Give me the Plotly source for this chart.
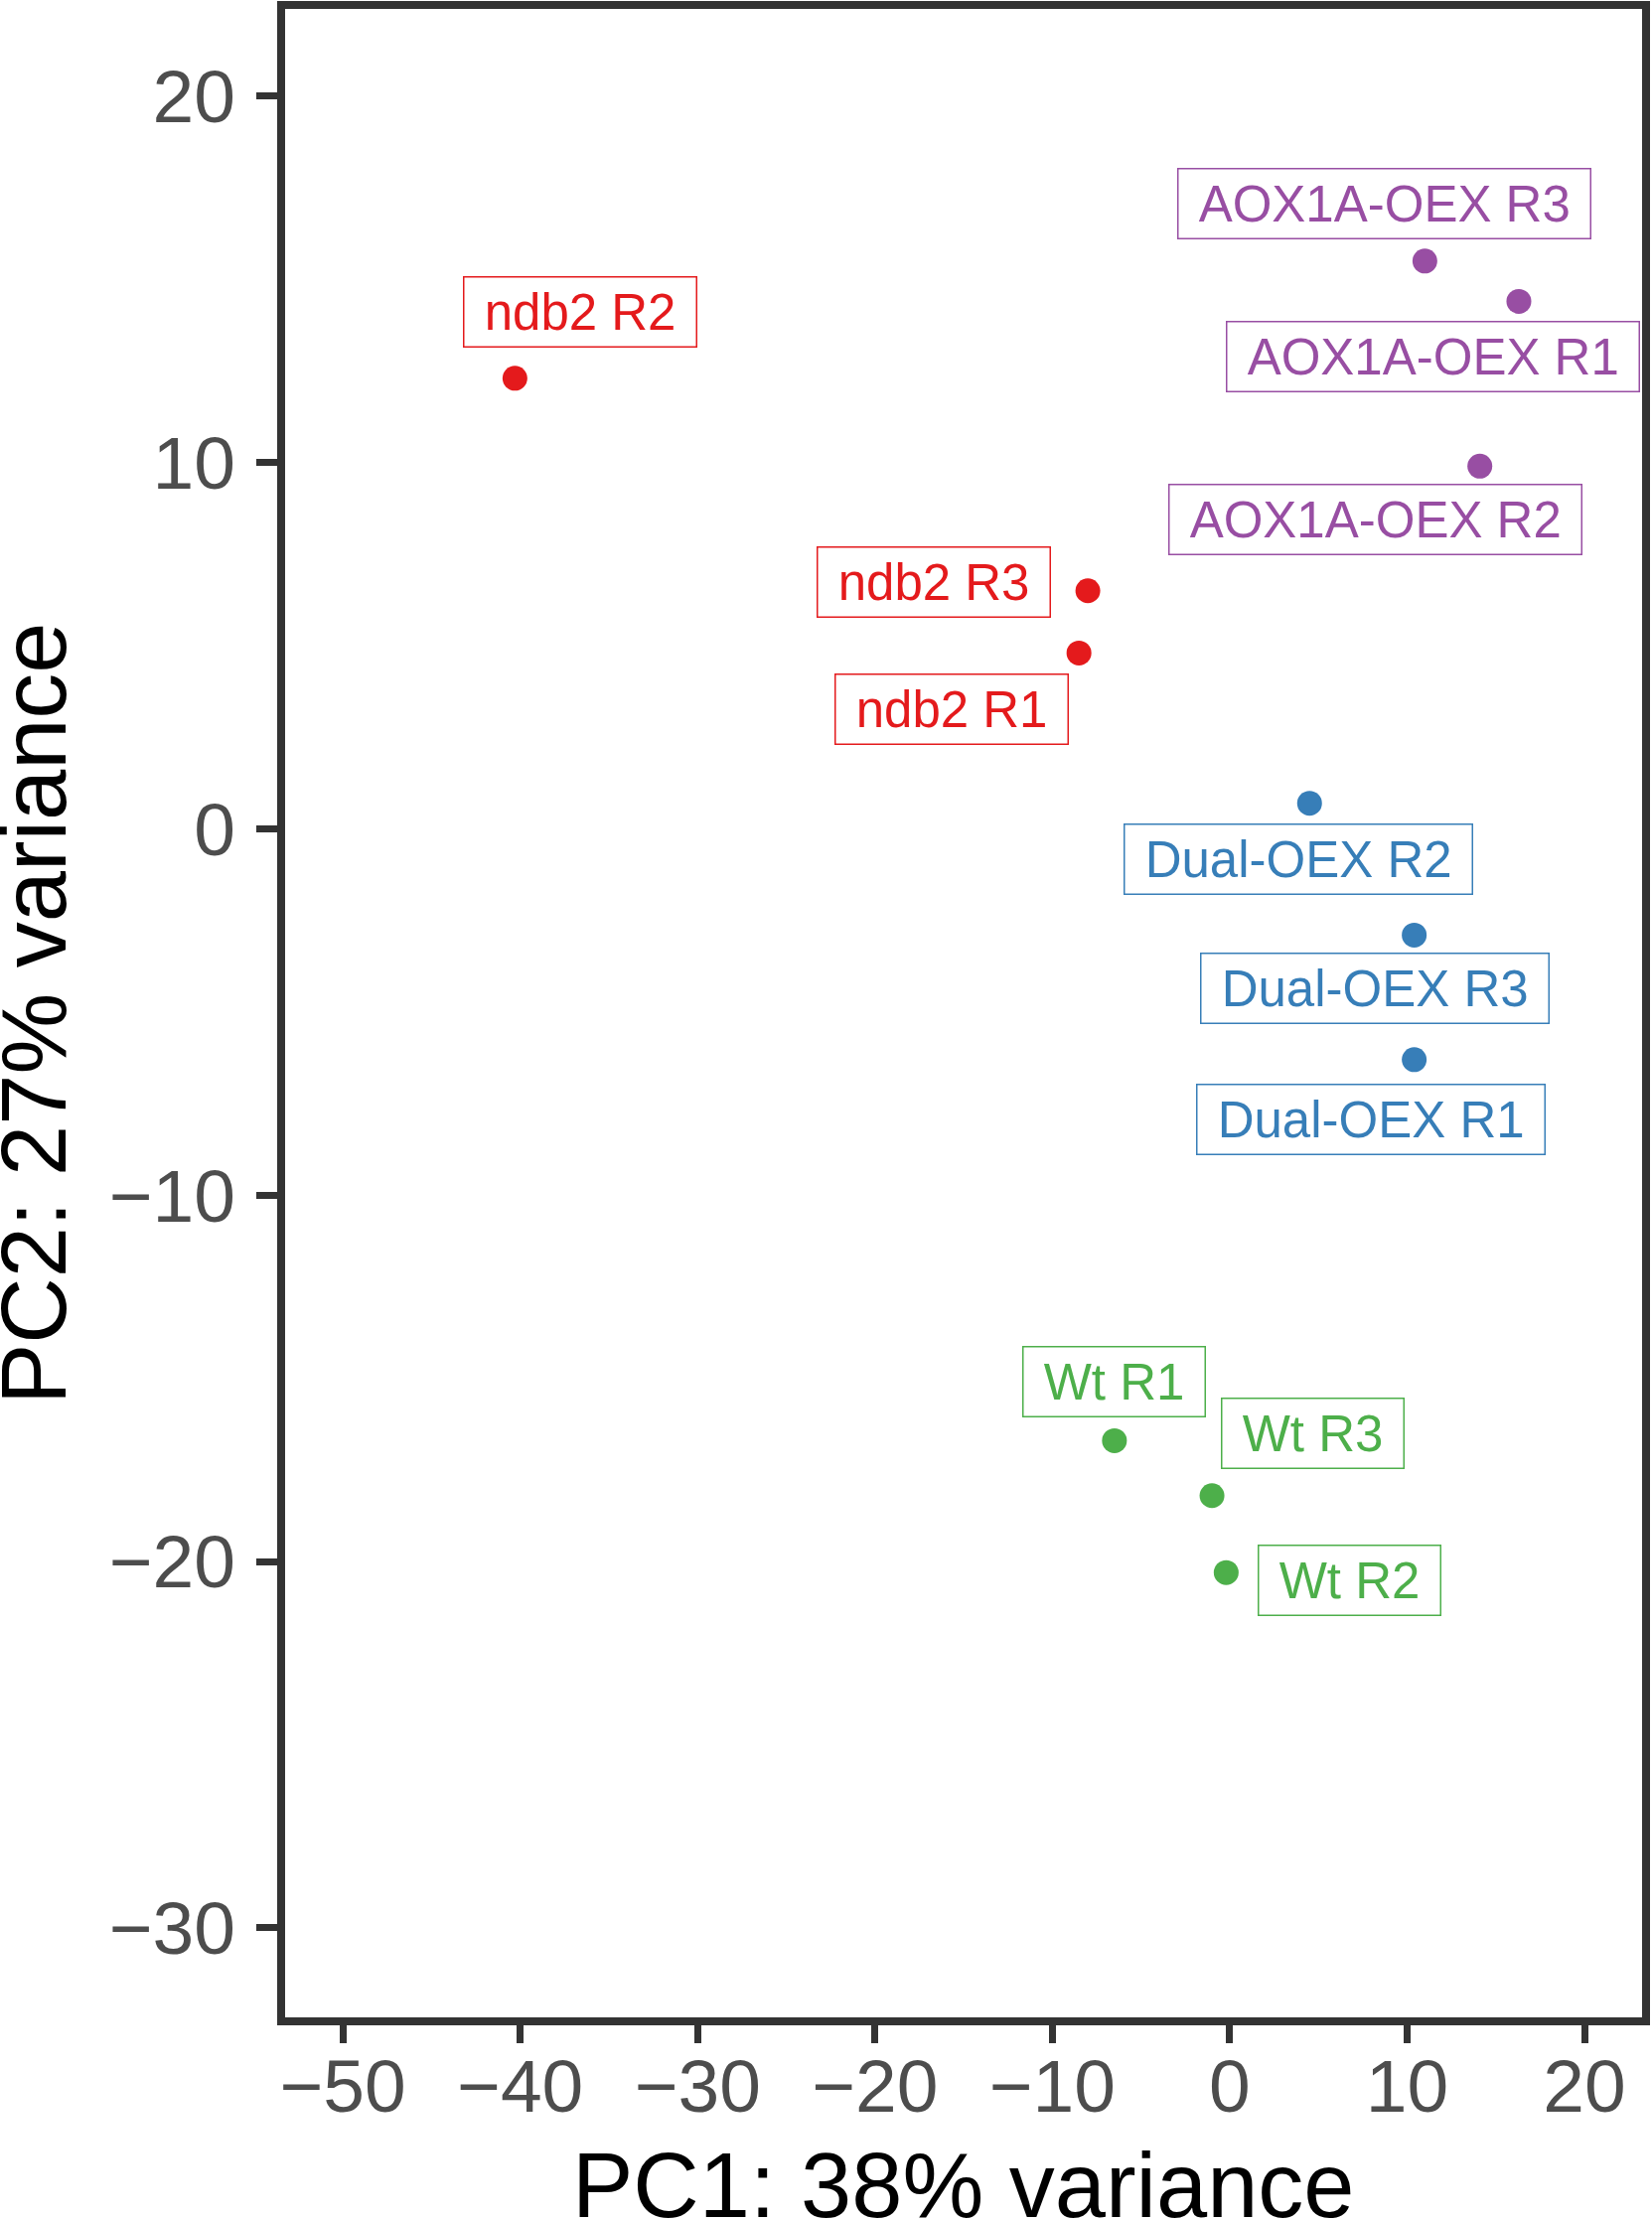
import plotly.graph_objects as go

# PCA of samples
samples = ["ndb2 R2", "ndb2 R3", "ndb2 R1",
           "AOX1A-OEX R3", "AOX1A-OEX R1", "AOX1A-OEX R2",
           "Dual-OEX R2", "Dual-OEX R3", "Dual-OEX R1",
           "Wt R1", "Wt R3", "Wt R2"]
groups = ["ndb2"] * 3 + ["AOX1A-OEX"] * 3 + ["Dual-OEX"] * 3 + ["Wt"] * 3
pc1 = [-40.3, -8.0, -8.5, 11.0, 16.3, 14.1, 4.5, 10.4, 10.4, -6.5, -1.0, -0.2]
pc2 = [12.3, 6.5, 4.8, 15.5, 14.4, 9.9, 0.7, -2.9, -6.3, -16.7, -18.2, -20.3]

x_ticks = [-50, -40, -30, -20, -10, 0, 10, 20]
y_ticks = [-30, -20, -10, 0, 10, 20]
x_title = "PC1: 38% variance"
y_title = "PC2: 27% variance"

group_colors = {"ndb2": "#E41A1C", "AOX1A-OEX": "#984EA3",
                "Dual-OEX": "#377EB8", "Wt": "#4DAF4A"}

# repelled label offsets in pixels (dx, dy), like ggrepel put them
label_offsets = [(66, -67), (-155, -9), (-128, 57),
                 (-41, -58), (-86, 56), (-105, 54),
                 (-11, 56), (-40, 54), (-44, 60),
                 (0, -59), (101, -63), (124, 8)]

FONT = "Liberation Sans, Arial, Helvetica, sans-serif"
NB = "\u00a0"
DARK = "#333333"

fig = go.Figure()
for g, col in group_colors.items():
    idx = [i for i, gg in enumerate(groups) if gg == g]
    fig.add_trace(go.Scatter(
        x=[pc1[i] for i in idx], y=[pc2[i] for i in idx],
        mode="markers", name=g,
        marker=dict(color=col, size=25, line=dict(width=0)),
    ))

for i, s in enumerate(samples):
    col = group_colors[groups[i]]
    dx, dy = label_offsets[i]
    fig.add_annotation(
        x=pc1[i], y=pc2[i], text=NB + s + NB,
        showarrow=True, arrowcolor="rgba(0,0,0,0)", arrowwidth=0.1,
        ax=dx, ay=dy, axref="pixel", ayref="pixel",
        font=dict(family=FONT, size=51, color=col),
        bgcolor="white", bordercolor=col, borderwidth=1.5, borderpad=6,
        xanchor="center", yanchor="middle",
    )

# axis titles as annotations so they sit where ggplot put them
fig.add_annotation(
    xref="paper", yref="paper", x=0.5, y=0, xanchor="center", yanchor="top",
    yshift=-112, text=x_title, showarrow=False,
    font=dict(family=FONT, size=92, color="black"),
)
fig.add_annotation(
    xref="paper", yref="paper", x=0, y=0.5, xanchor="right", yanchor="middle",
    xshift=-196, text=y_title, showarrow=False, textangle=-90,
    font=dict(family=FONT, size=92, color="black"),
)

# panel border
fig.add_shape(type="rect", xref="paper", yref="paper",
              x0=0, x1=1, y0=0, y1=1,
              line=dict(color=DARK, width=8), fillcolor="rgba(0,0,0,0)")

axis_common = dict(
    showgrid=False, zeroline=False, automargin=False, showline=False,
    ticks="outside", tickwidth=7, tickcolor=DARK,
    tickfont=dict(family=FONT, size=75, color="#4D4D4D"),
)

fig.update_xaxes(range=[-53.48, 23.47], tickvals=x_ticks, ticklen=21,
                 ticklabelstandoff=-21, **axis_common)
fig.update_yaxes(range=[-32.55, 22.49], tickvals=y_ticks, ticklen=24,
                 ticklabelstandoff=6, **axis_common)

fig.update_layout(
    width=1663, height=2235,
    margin=dict(l=283, r=5.5, t=4.5, b=199.5),
    plot_bgcolor="white", paper_bgcolor="white",
    showlegend=False,
)

# drop the default body margin so the figure fills the window exactly
fig.write_html("out.html", config={"displayModeBar": False},
               post_script="document.body.style.margin='0';"
                           "document.body.style.overflow='hidden';")
